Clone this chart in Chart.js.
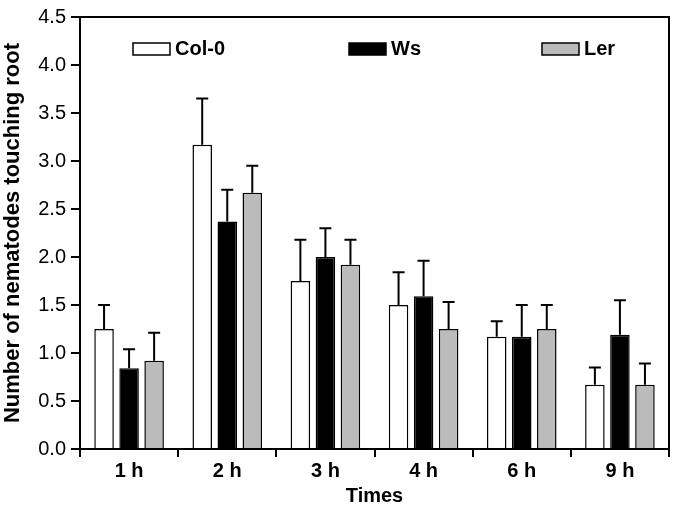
<!DOCTYPE html>
<html>
<head>
<meta charset="utf-8">
<script src="https://cdn.jsdelivr.net/npm/chart.js@4"></script>
<style>
  body { margin: 0; background: #fff; }
</style>
</head>
<body>
<canvas id="chart" width="675" height="508"></canvas>
<script>
// time points
var times = ['1 h', '2 h', '3 h', '4 h', '6 h', '9 h'];

// mean nematodes touching root, per ecotype
var col0 = [1.25, 3.17, 1.75, 1.50, 1.17, 0.67];
var ws   = [0.84, 2.37, 2.00, 1.59, 1.17, 1.19];
var ler  = [0.92, 2.67, 1.92, 1.25, 1.25, 0.67];

// upper error (SE)
var col0Err = [0.25, 0.48, 0.43, 0.34, 0.16, 0.18];
var wsErr   = [0.20, 0.33, 0.30, 0.37, 0.33, 0.36];
var lerErr  = [0.29, 0.28, 0.26, 0.28, 0.25, 0.22];

var FONT = "'Liberation Sans', Arial, sans-serif";

// draws the upper error bars
var errorBars = {
    id: 'errorBars',
    afterDatasetsDraw: function (chart) {
        var ctx = chart.ctx;
        var yScale = chart.scales.y;
        ctx.save();
        ctx.strokeStyle = '#000';
        ctx.lineWidth = 2;
        chart.data.datasets.forEach(function (ds, di) {
            var meta = chart.getDatasetMeta(di);
            meta.data.forEach(function (bar, i) {
                var top = yScale.getPixelForValue(ds.data[i] + ds.errors[i]);
                ctx.beginPath();
                ctx.moveTo(bar.x, bar.y);
                ctx.lineTo(bar.x, top);
                ctx.moveTo(bar.x - 6, top);
                ctx.lineTo(bar.x + 6, top);
                ctx.stroke();
            });
        });
        ctx.restore();
    }
};

// top/right frame + legend inside the plot
var frameLegend = {
    id: 'frameLegend',
    afterDraw: function (chart) {
        var ctx = chart.ctx;
        var a = chart.chartArea;
        ctx.save();
        ctx.strokeStyle = '#000';
        ctx.lineWidth = 2;
        ctx.beginPath();
        ctx.moveTo(a.left, a.top);
        ctx.lineTo(a.right, a.top);
        ctx.lineTo(a.right, a.bottom);
        ctx.stroke();

        var xs = [133, 349, 542];
        ctx.font = 'bold 20px ' + FONT;
        ctx.textBaseline = 'middle';
        chart.data.datasets.forEach(function (ds, i) {
            ctx.fillStyle = ds.backgroundColor;
            ctx.fillRect(xs[i], 43, 37, 12);
            ctx.lineWidth = 1.5;
            ctx.strokeRect(xs[i], 43, 37, 12);
            ctx.fillStyle = '#000';
            ctx.fillText(ds.label, xs[i] + 42, 49);
        });
        ctx.restore();
    }
};

function makeSet(label, data, errs, color) {
    return {
        label: label,
        data: data,
        errors: errs,
        backgroundColor: color,
        borderColor: '#000',
        borderWidth: 1.5,
        borderSkipped: 'bottom',
        categoryPercentage: 0.765,
        barPercentage: 0.78
    };
}

new Chart(document.getElementById('chart'), {
    type: 'bar',
    data: {
        labels: times,
        datasets: [
            makeSet('Col-0', col0, col0Err, '#ffffff'),
            makeSet('Ws', ws, wsErr, '#000000'),
            makeSet('Ler', ler, lerErr, '#bbbbbb')
        ]
    },
    options: {
        responsive: false,
        animation: false,
        layout: { padding: { top: 14, right: 6, left: 0, bottom: 0 } },
        plugins: {
            legend: { display: false },
            tooltip: { enabled: false }
        },
        scales: {
            x: {
                afterFit: function (s) { s.height = 59; },
                grid: {
                    offset: true,
                    drawOnChartArea: false,
                    color: '#000',
                    lineWidth: 2,
                    tickLength: 8
                },
                border: { color: '#000', width: 2 },
                ticks: {
                    color: '#000',
                    padding: 2,
                    font: { family: FONT, size: 20, weight: 'bold' }
                },
                title: {
                    display: true,
                    text: 'Times',
                    color: '#000',
                    padding: { top: 0, bottom: 0 },
                    font: { family: FONT, size: 20, weight: 'bold' }
                }
            },
            y: {
                min: 0,
                max: 4.5,
                afterFit: function (s) { s.width = 80; },
                grid: {
                    drawOnChartArea: false,
                    color: '#000',
                    lineWidth: 2,
                    tickLength: 9
                },
                border: { color: '#000', width: 2 },
                ticks: {
                    stepSize: 0.5,
                    color: '#000',
                    padding: 5,
                    font: { family: FONT, size: 20 },
                    callback: function (v) { return v.toFixed(1); }
                },
                title: {
                    display: true,
                    text: 'Number of nematodes touching root',
                    color: '#000',
                    padding: { top: 0, bottom: 0 },
                    font: { family: FONT, size: 22, weight: 'bold' }
                }
            }
        }
    },
    plugins: [errorBars, frameLegend]
});
</script>
</body>
</html>
